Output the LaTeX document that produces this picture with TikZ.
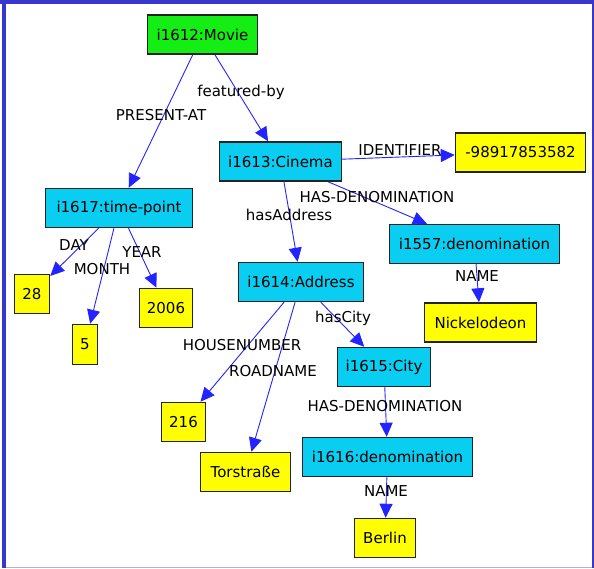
\documentclass[tikz,border=0pt]{standalone}
\usepackage{fontspec}
\setmainfont{DejaVu Sans}
\usepackage{tikz}
\usetikzlibrary{arrows.meta}

\definecolor{frameblue}{RGB}{55,55,205}
\definecolor{framelav}{RGB}{175,175,235}
\definecolor{boxline}{RGB}{35,35,35}
\definecolor{moviegreen}{RGB}{20,238,20}
\definecolor{conceptcyan}{RGB}{10,205,242}
\definecolor{valueyellow}{RGB}{255,255,0}
\definecolor{relblue}{RGB}{35,35,255}

\begin{document}
\begin{tikzpicture}[
    x=1pt,y=-1pt,
    font=\fontsize{15}{18}\selectfont,
    box/.style={rectangle,draw=boxline,line width=1.5pt,minimum height=39pt,inner sep=0pt},
    movie/.style={box,fill=moviegreen},
    concept/.style={box,fill=conceptcyan},
    value/.style={box,fill=valueyellow},
    rel/.style={draw=relblue,line width=0.9pt,-{Triangle[length=14pt,width=13pt]}},
    lbl/.style={inner sep=0pt}
]

    \useasboundingbox (0,0) rectangle (594,568);

    % frame
    \fill[frameblue] (2,0) rectangle (6,568);
    \fill[frameblue] (0,0) rectangle (594,4);
    \fill[frameblue] (591.5,0) rectangle (594,568);
    \fill[framelav] (6,566.5) rectangle (591.5,568);

    % concepts
    \node[movie,minimum width=110pt] (movie) at (202.5,34.5) {i1612:Movie};
    \node[concept,minimum width=147pt] (timepoint) at (119,208) {i1617:time-point};
    \node[concept,minimum width=122pt] (cinema) at (280.5,161.5) {i1613:Cinema};
    \node[concept,minimum width=170pt] (denomA) at (474.5,244) {i1557:denomination};
    \node[concept,minimum width=125pt] (address) at (301,282) {i1614:Address};
    \node[concept,minimum width=93pt] (city) at (384,367) {i1615:City};
    \node[concept,minimum width=170pt] (denomB) at (387.5,457) {i1616:denomination};

    % values
    \node[value,minimum width=130pt] (ident) at (520.5,152.5) {-98917853582};
    \node[value,minimum width=112pt] (nickel) at (480.5,322.5) {Nickelodeon};
    \node[value,minimum width=35pt] (day) at (32,294) {28};
    \node[value,minimum width=25pt,minimum height=40pt] (month) at (85,344.5) {5};
    \node[value,minimum width=53pt] (year) at (166,308) {2006};
    \node[value,minimum width=44pt] (house) at (183.5,422) {216};
    \node[value,minimum width=90pt] (road) at (245.5,472) {Torstraße};
    \node[value,minimum width=61pt] (berlin) at (385,538) {Berlin};

    % relations
    \draw[rel] (movie) -- (timepoint);
    \draw[rel] (movie) -- (cinema);
    \draw[rel] (cinema) -- (ident);
    \draw[rel] (cinema) -- (denomA);
    \draw[rel] (cinema) -- (address);
    \draw[rel] (denomA) -- (nickel);
    \draw[rel] (timepoint) -- (day);
    \draw[rel] (timepoint) -- (month);
    \draw[rel] (timepoint) -- (year);
    \draw[rel] (address) -- (house);
    \draw[rel] (address) -- (road);
    \draw[rel] (address) -- (city);
    \draw[rel] (city) -- (denomB);
    \draw[rel] (denomB) -- (berlin);

    % relation labels
    \node[lbl] (lPresent) at (161,115) {PRESENT-AT};
    \node[lbl] (lFeatured) at (241,92) {featured-by};
    \node[lbl] (lIdent) at (400,150) {IDENTIFIER};
    \node[lbl] (lDenomA) at (377,197) {HAS-DENOMINATION};
    \node[lbl] (lAddress) at (289,215) {hasAddress};
    \node[lbl] (lNameA) at (477,276) {NAME};
    \node[lbl] (lDay) at (74,245) {DAY};
    \node[lbl] (lMonth) at (102,269) {MONTH};
    \node[lbl] (lYear) at (142,252) {YEAR};
    \node[lbl] (lCity) at (343,318) {hasCity};
    \node[lbl] (lHouse) at (242,345) {HOUSENUMBER};
    \node[lbl] (lRoad) at (273,371) {ROADNAME};
    \node[lbl] (lDenomB) at (385,406) {HAS-DENOMINATION};
    \node[lbl] (lNameB) at (386,491) {NAME};

\end{tikzpicture}
\end{document}
